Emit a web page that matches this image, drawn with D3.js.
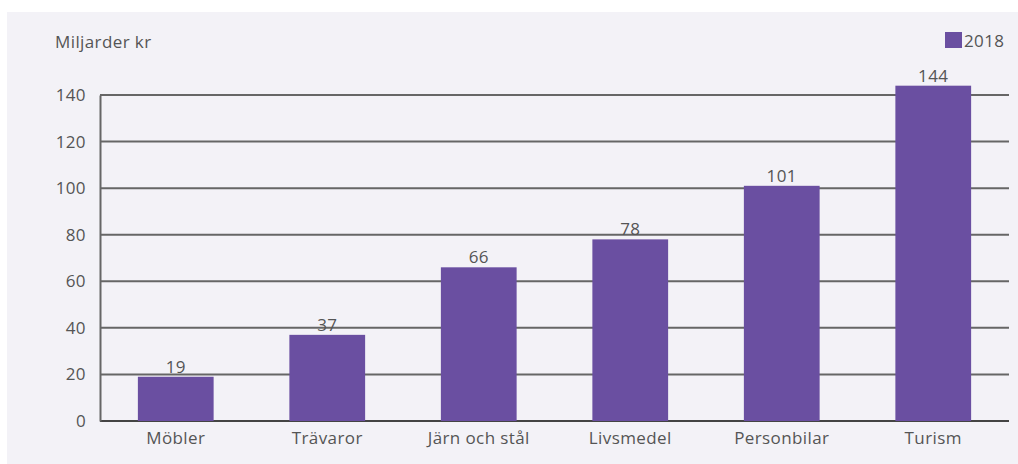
<!DOCTYPE html>
<html>
<head>
<meta charset="utf-8">
<script src="https://cdn.jsdelivr.net/npm/d3@7"></script>
<style>
  body { margin: 0; background: #fff; overflow: hidden; }
  svg { display: block; }
  svg text { font-family: "Open Sans", Lato, sans-serif; fill: #555; letter-spacing: 0.4px; }
</style>
</head>
<body>
<div id="chart"></div>
<script>
const categories = ["Möbler", "Trävaror", "Järn och stål", "Livsmedel", "Personbilar", "Turism"];
const values2018 = [19, 37, 66, 78, 101, 144];
const yTicks = [0, 20, 40, 60, 80, 100, 120, 140];
const seriesName = "2018";
const unitLabel = "Miljarder kr";

const width = 1018, height = 464;
const margin = { top: 95, right: 9, bottom: 43, left: 100 };
const innerWidth = width - margin.left - margin.right;
const innerHeight = height - margin.top - margin.bottom;

const svg = d3.select("#chart").append("svg")
    .attr("width", width)
    .attr("height", height);

// panel background
svg.append("rect")
    .attr("x", 7).attr("y", 12)
    .attr("width", width - 7).attr("height", height - 12)
    .attr("fill", "#f3f2f7");

const chart = svg.append("g")
    .attr("transform", `translate(${margin.left}, ${margin.top})`);

const x = d3.scaleBand()
    .domain(categories)
    .range([0, innerWidth])
    .paddingInner(0.5)
    .paddingOuter(0.25);

const y = d3.scaleLinear()
    .domain([0, 140])
    .range([innerHeight, 0]);

// gridlines
chart.append("g")
    .selectAll("line")
    .data(yTicks)
    .join("line")
    .attr("x1", 0)
    .attr("x2", innerWidth)
    .attr("y1", d => y(d))
    .attr("y2", d => y(d))
    .attr("stroke", d => d === 0 ? "#444" : "#666")
    .attr("stroke-width", 2);

// y axis
const yAxis = chart.append("g")
    .call(d3.axisLeft(y).tickValues(yTicks).tickSize(0).tickPadding(14));
yAxis.select(".domain").attr("stroke", "#666").attr("stroke-width", 2);
yAxis.selectAll("text").style("font-size", "17px").attr("fill", "#555");

const rows = categories.map((c, i) => ({ c, v: values2018[i] }));

// bars
chart.selectAll("rect.bar")
    .data(rows)
    .join("rect")
    .attr("class", "bar")
    .attr("x", d => x(d.c))
    .attr("y", d => y(d.v))
    .attr("width", x.bandwidth())
    .attr("height", d => innerHeight - y(d.v))
    .attr("fill", "#6a4fa1");

// value labels
chart.selectAll("text.val")
    .data(rows)
    .join("text")
    .attr("class", "val")
    .attr("x", d => x(d.c) + x.bandwidth() / 2)
    .attr("y", d => y(d.v) - 4)
    .attr("text-anchor", "middle")
    .style("font-size", "17px")
    .text(d => d.v);

// x axis labels
const xAxis = chart.append("g")
    .attr("transform", `translate(0, ${innerHeight})`)
    .call(d3.axisBottom(x).tickSize(0).tickPadding(11));
xAxis.select(".domain").remove();
xAxis.selectAll("text").style("font-size", "17px").attr("fill", "#555");

// unit label
svg.append("text")
    .attr("x", 55)
    .attr("y", 48)
    .style("font-size", "17px")
    .text(unitLabel);

// legend
const legend = svg.append("g").attr("transform", "translate(945, 32)");
legend.append("rect")
    .attr("width", 17).attr("height", 16)
    .attr("fill", "#6a4fa1");
legend.append("text")
    .attr("x", 19)
    .attr("y", 15)
    .style("font-size", "17px")
    .text(seriesName);
</script>
</body>
</html>
